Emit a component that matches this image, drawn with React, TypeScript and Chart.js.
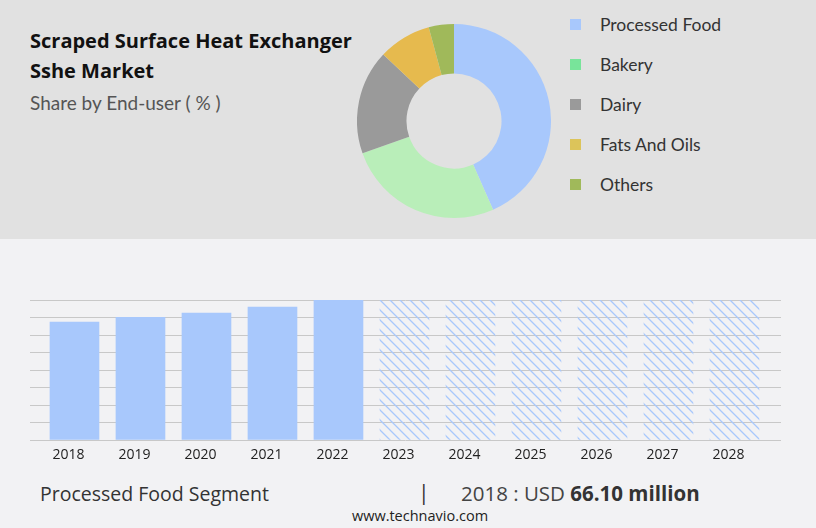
import React, { useEffect, useRef } from "react";
import { Chart, registerables } from "chart.js";

Chart.register(...registerables);

const segments = ["Processed Food", "Bakery", "Dairy", "Fats And Oils", "Others"];
const shares = [43.4, 26.2, 17.4, 8.8, 4.2];
const sliceColors = ["#a8c8fc", "#b9eeb9", "#9a9a9a", "#e6ba4e", "#a0b95a"];
const legendColors = ["#a8c8fc", "#78e49a", "#9a9a9a", "#dcc45a", "#a0b95a"];

const years = ["2018", "2019", "2020", "2021", "2022", "2023", "2024", "2025", "2026", "2027", "2028"];
const historicValues = [66.1, 68.7, 71.1, 74.5, 78.4];
const forecastValues = [78.4, 78.4, 78.4, 78.4, 78.4, 78.4];
const axisMax = 78.4;
const gridCount = 9;

const BAR_BLUE = "#a8c8fc";
const FONT = "'Open Sans', 'Noto Sans', sans-serif";

function makeHatch(): CanvasPattern | string {
  const c = document.createElement("canvas");
  c.width = 10;
  c.height = 10;
  const ctx = c.getContext("2d");
  if (!ctx) return BAR_BLUE;
  ctx.strokeStyle = BAR_BLUE;
  ctx.lineWidth = 1.3;
  ctx.beginPath();
  ctx.moveTo(-2, -2);
  ctx.lineTo(12, 12);
  ctx.moveTo(-2, 8);
  ctx.lineTo(2, 12);
  ctx.moveTo(8, -2);
  ctx.lineTo(12, 2);
  ctx.stroke();
  return ctx.createPattern(c, "repeat") || BAR_BLUE;
}

export default function App() {
  const donutRef = useRef<HTMLCanvasElement>(null);
  const barRef = useRef<HTMLCanvasElement>(null);

  useEffect(() => {
    document.body.style.margin = "0";
    const donut = new Chart(donutRef.current!, {
      type: "doughnut",
      data: {
        labels: segments,
        datasets: [
          {
            data: shares,
            backgroundColor: sliceColors,
            borderWidth: 0,
          },
        ],
      },
      options: {
        responsive: false,
        animation: false,
        cutout: "49%",
        layout: { padding: 0 },
        plugins: { legend: { display: false }, tooltip: { enabled: false } },
      },
    });

    const hatch = makeHatch();
    const allValues = [...historicValues, ...forecastValues];
    const bar = new Chart(barRef.current!, {
      type: "bar",
      data: {
        datasets: [
          {
            data: years.map((_, i) => ({ x: i, y: allValues[i] })),
            backgroundColor: years.map((_, i) => (i < historicValues.length ? BAR_BLUE : hatch)),
            borderWidth: 0,
            barThickness: 49,
          },
        ],
      },
      options: {
        responsive: false,
        animation: false,
        layout: { padding: { left: 30, right: 35, top: 20, bottom: 0 } },
        plugins: { legend: { display: false }, tooltip: { enabled: false } },
        scales: {
          x: {
            type: "linear",
            offset: false,
            min: -0.674,
            max: 10.705,
            grid: { display: false, drawTicks: false, offset: false },
            border: { display: false },
            afterFit: (s: any) => {
              s.height = 30;
            },
            ticks: {
              stepSize: 1,
              includeBounds: false,
              autoSkip: false,
              maxRotation: 0,
              padding: 7,
              labelOffset: -6,
              color: "#222",
              font: { family: FONT, size: 14 },
              callback: (v: any) => (Number.isInteger(v) && years[v] ? years[v] : ""),
            },
          },
          y: {
            min: 0,
            max: axisMax,
            grid: { color: "#c8c8c8", lineWidth: 1, drawTicks: false },
            border: { display: false },
            ticks: { display: false, count: gridCount },
            afterFit: (s: any) => {
              s.width = 0;
            },
          },
        },
      },
    });

    return () => {
      donut.destroy();
      bar.destroy();
    };
  }, []);

  return (
    <div
      style={{
        position: "fixed",
        left: 0,
        top: 0,
        width: 816,
        height: 528,
        background: "#f2f2f4",
        overflow: "hidden",
        fontFamily: FONT,
      }}
    >
      <div style={{ position: "absolute", left: 0, top: 0, width: 816, height: 239, background: "#e1e1e1" }} />
      <div
        style={{
          position: "absolute",
          left: 30,
          top: 26,
          fontWeight: 700,
          fontSize: 20,
          lineHeight: "30px",
          color: "#111",
        }}
      >
        Scraped Surface Heat Exchanger
        <br />
        Sshe Market
      </div>
      <div style={{ position: "absolute", left: 30, top: 91, fontSize: 19, color: "#555", fontFamily: "Lato, sans-serif" }}>
        Share by End-user ( % )
      </div>
      <canvas
        ref={donutRef}
        width={194}
        height={194}
        style={{ position: "absolute", left: 357, top: 24, width: 194, height: 194 }}
      />
      {segments.map((s, i) => (
        <div key={s} style={{ position: "absolute", left: 570, top: 24 + i * 40 - 10, height: 20, display: "flex", alignItems: "center" }}>
          <div style={{ width: 11, height: 11, background: legendColors[i] }} />
          <div style={{ marginLeft: 19, fontSize: 17.5, color: "#333", fontFamily: "Lato, sans-serif" }}>{s}</div>
        </div>
      ))}
      <canvas
        ref={barRef}
        width={816}
        height={190}
        style={{ position: "absolute", left: 0, top: 280, width: 816, height: 190 }}
      />
      <div style={{ position: "absolute", left: 40, top: 480, fontSize: 19.5, color: "#333" }}>Processed Food Segment</div>
      <div style={{ position: "absolute", left: 418, top: 478, fontSize: 21, color: "#333" }}>|</div>
      <div style={{ position: "absolute", left: 461, top: 479, fontSize: 20.5, color: "#444" }}>
        2018 : USD <b style={{ color: "#333" }}>66.10 million</b>
      </div>
      <div style={{ position: "absolute", left: 0, width: 840, top: 506, textAlign: "center", fontSize: 14.5, color: "#222" }}>
        www.technavio.com
      </div>
    </div>
  );
}
